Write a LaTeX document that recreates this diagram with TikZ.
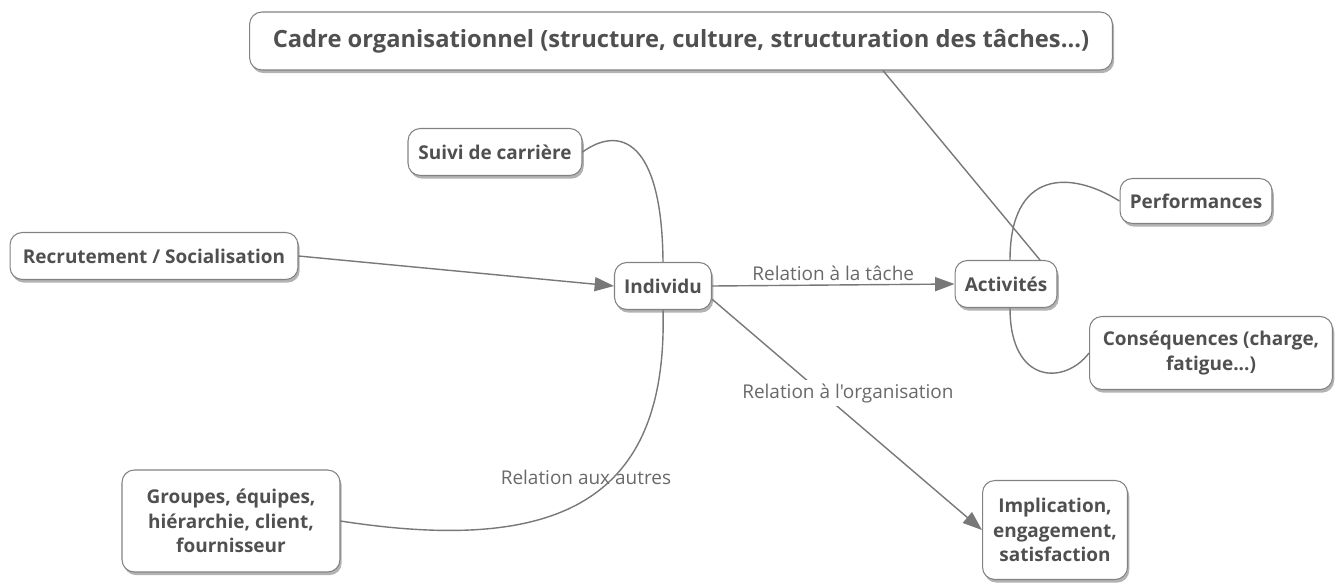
\documentclass[tikz,border=0pt]{standalone}
\usepackage{fontspec}
\setmainfont{Open Sans}[Ligatures=TeXOff]
\usetikzlibrary{arrows.meta,shadows}
\definecolor{boxgray}{RGB}{130,130,130}
\definecolor{textgray}{RGB}{80,80,80}
\definecolor{labelgray}{RGB}{105,105,105}
\definecolor{linegray}{RGB}{120,120,120}

\begin{document}
\begin{tikzpicture}[x=0.02cm, y=-0.02cm]

%
% Styles
%
\tikzstyle{box}   = [draw=boxgray, fill=white, line width=0.6pt, rounded corners=7pt, text=textgray, align=center, inner sep=2pt, font=\bfseries\fontsize{10.8}{14}\selectfont, minimum height=0.94cm, drop shadow={shadow xshift=1pt, shadow yshift=-1.8pt, opacity=0.6}]
\tikzstyle{topic} = [box, font=\bfseries\fontsize{13.5}{15}\selectfont, minimum height=1.16cm]
\tikzstyle{tag}   = [text=labelgray, font=\fontsize{10.8}{12}\selectfont, inner sep=2pt]

\tikzstyle{link}  = [draw=linegray, line width=0.8pt]
\tikzstyle{edge}  = [link, -{Triangle[length=11pt,width=8pt]}]

\useasboundingbox (0,0) rectangle (1344,585);

\node[topic] (cadre)   at ( 681,  41) [minimum width=17.26cm] {Cadre organisationnel (structure, culture, structuration des tâches...)};
\node[box]   (suivi)   at ( 495, 152) [minimum width=3.48cm] {Suivi de carrière};
\node[box]   (recrut)  at ( 154, 256) [minimum width=5.76cm] {Recrutement / Socialisation};
\node[box]   (indiv)   at ( 663, 286) [minimum width=1.94cm] {Individu};
\node[box]   (activ)   at (1006, 284) [minimum width=2.04cm] {Activités};
\node[box]   (perf)    at (1196, 201) [minimum width=3.04cm, minimum height=0.9cm] {Performances};
\node[box]   (conseq)  at (1211, 353) [minimum width=4.86cm, minimum height=1.46cm] {Conséquences (charge,\\fatigue...)};
\node[box]   (groupes) at ( 231, 521) [minimum width=4.36cm, minimum height=2.04cm] {Groupes, équipes,\\hiérarchie, client,\\fournisseur};
\node[box]   (impl)    at (1055, 530) [minimum width=2.9cm, minimum height=1.98cm] {Implication,\\engagement,\\satisfaction};

\draw[link] ([xshift=4.04cm]cadre.south) -- ([xshift=0.68cm]activ.north);
\draw[link] (suivi.east) .. controls (620,125) and (662,140) .. (indiv.north);
\draw[edge] (recrut.east) -- (indiv.west);
\draw[edge] (indiv.east) -- node[tag, above] {Relation à la tâche} (activ.west);
\draw[edge] (indiv.-15) -- node[tag, fill=white, pos=0.407, xshift=0.52cm] {Relation à l'organisation} (impl.west);
\draw[link] (indiv.south) .. controls (668,500) and (560,555) .. node[tag, pos=0.5, yshift=0.44cm] {Relation aux autres} (groupes.east);
\draw[link] ([xshift=0.08cm]activ.north) .. controls (1010,170) and (1070,170) .. (perf.west);
\draw[link] ([xshift=0.08cm]activ.south) .. controls (1010,385) and (1065,385) .. (conseq.west);

\end{tikzpicture}
\end{document}
